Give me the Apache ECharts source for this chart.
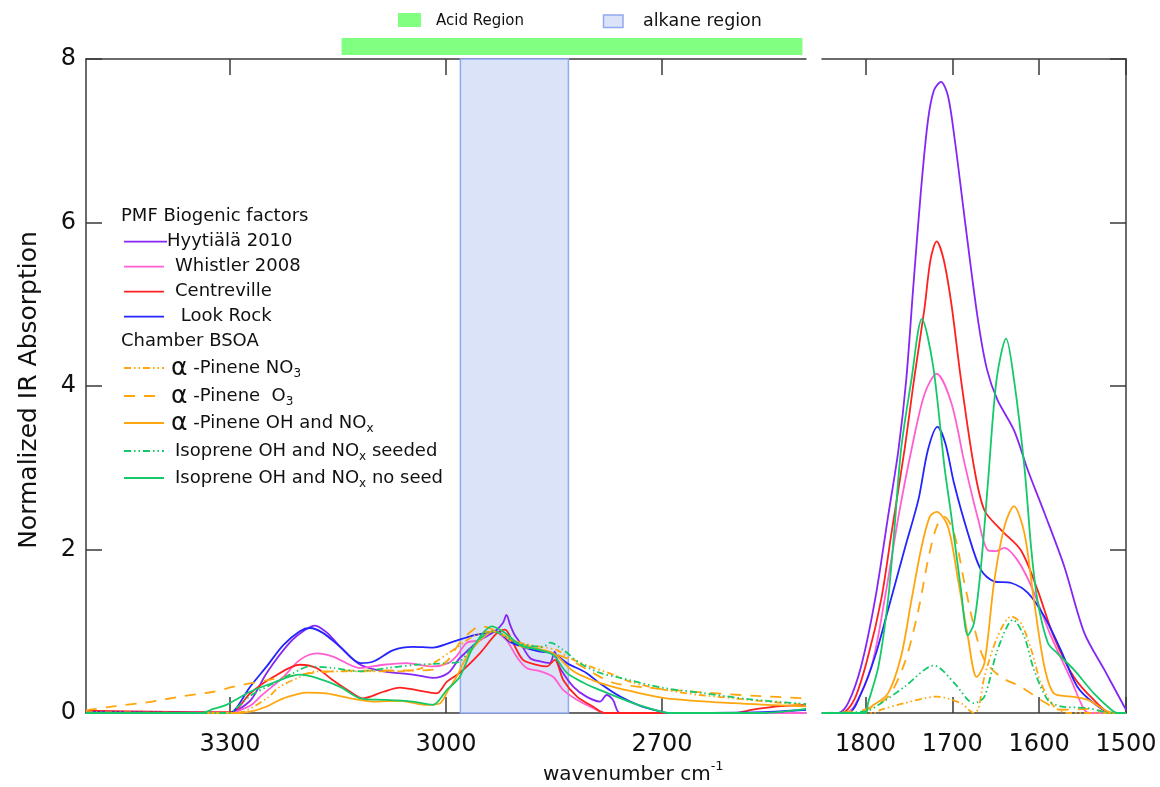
<!DOCTYPE html>
<html><head><meta charset="utf-8">
<script src="https://cdn.jsdelivr.net/npm/echarts@6/dist/echarts.min.js"></script>
<style>html,body{margin:0;padding:0;background:#fff}#c{width:1160px;height:787px}</style>
</head><body><div id="c"></div>
<script>
// ---------- DATA ----------
const leftTicks = [3300, 3000, 2700];
const rightTicks = [1800, 1700, 1600, 1500];
const yTicks = [0, 2, 4, 6, 8];
const acidRegion = [3145, 2505];
const alkaneRegion = [2980, 2830];

const seriesNames = ['Hyytiälä 2010', 'Whistler 2008', 'Centreville', 'Look Rock',
  'α-Pinene NO3', 'α-Pinene O3', 'α-Pinene OH and NOx',
  'Isoprene OH and NOx seeded', 'Isoprene OH and NOx no seed'];

const hyytialaL = [[3500,0.02],[3400,0.01],[3300,0.0],[3290,0.03],[3270,0.17],[3249,0.49],[3217,0.86],[3195,1.02],[3182,1.07],[3165,0.98],[3147,0.81],[3119,0.59],[3087,0.51],[3046,0.47],[3018,0.43],[2997,0.49],[2981,0.67],[2953,0.89],[2932,1.0],[2921,1.1],[2916,1.2],[2911,1.08],[2905,0.96],[2897,0.86],[2883,0.67],[2869,0.63],[2856,0.61],[2849,0.75],[2845,0.62],[2839,0.51],[2823,0.32],[2805,0.20],[2786,0.14],[2777,0.22],[2768,0.16],[2758,0],[2500,0]];
const whistlerL = [[3500,0.01],[3300,0],[3290,0.02],[3270,0.10],[3258,0.2],[3226,0.44],[3203,0.65],[3180,0.73],[3157,0.69],[3119,0.55],[3087,0.59],[3055,0.61],[3018,0.57],[2997,0.61],[2985,0.7],[2971,0.86],[2953,0.89],[2935,1.0],[2916,0.89],[2902,0.69],[2888,0.55],[2869,0.51],[2851,0.44],[2837,0.28],[2814,0.14],[2786,0.02],[2780,0],[2500,0]];
const centrevilleL = [[3500,0.03],[3300,0.01],[3290,0.05],[3272,0.24],[3240,0.44],[3203,0.59],[3180,0.55],[3157,0.40],[3133,0.26],[3115,0.18],[3087,0.26],[3064,0.31],[3041,0.28],[3013,0.24],[2999,0.38],[2981,0.49],[2953,0.73],[2930,0.97],[2918,1.02],[2907,0.86],[2893,0.65],[2874,0.59],[2860,0.57],[2849,0.65],[2837,0.40],[2818,0.20],[2796,0.08],[2780,0],[2600,0],[2574,0.04],[2540,0.08],[2500,0.10]];
const lookRockL = [[3500,0.01],[3300,0],[3292,0.05],[3272,0.32],[3249,0.57],[3226,0.83],[3203,1.0],[3189,1.04],[3171,0.98],[3147,0.81],[3119,0.61],[3101,0.63],[3073,0.77],[3046,0.81],[3018,0.80],[2994,0.86],[2962,0.95],[2943,0.98],[2930,1.0],[2911,0.87],[2893,0.81],[2869,0.75],[2851,0.73],[2832,0.61],[2805,0.49],[2786,0.36],[2758,0.20],[2731,0.09],[2703,0.02],[2690,0],[2560,0.01],[2500,0.04]];
const pineneNO3L = [[3500,0.01],[3300,0],[3280,0.02],[3249,0.18],[3231,0.32],[3203,0.44],[3180,0.51],[3147,0.51],[3110,0.51],[3073,0.51],[3041,0.53],[3018,0.61],[2997,0.73],[2985,0.80],[2960,0.95],[2935,1.0],[2902,0.87],[2869,0.81],[2846,0.77],[2828,0.67],[2800,0.57],[2768,0.47],[2740,0.37],[2694,0.28],[2647,0.22],[2601,0.18],[2555,0.14],[2500,0.10]];
const pineneO3L = [[3500,0.03],[3494,0.04],[3462,0.08],[3416,0.13],[3369,0.20],[3323,0.26],[3296,0.32],[3249,0.40],[3203,0.47],[3157,0.51],[3100,0.52],[3050,0.52],[3018,0.53],[2997,0.65],[2981,0.86],[2965,1.0],[2953,1.06],[2940,1.04],[2920,0.95],[2902,0.83],[2869,0.77],[2832,0.67],[2800,0.51],[2768,0.37],[2720,0.31],[2640,0.25],[2570,0.21],[2500,0.18]];
const pineneOHL = [[3500,0],[3290,0],[3270,0.02],[3249,0.08],[3226,0.18],[3193,0.25],[3166,0.24],[3133,0.18],[3101,0.14],[3064,0.15],[3027,0.10],[3008,0.12],[2997,0.28],[2985,0.45],[2971,0.69],[2953,0.89],[2935,1.0],[2907,0.89],[2879,0.80],[2851,0.73],[2823,0.51],[2796,0.40],[2768,0.32],[2740,0.26],[2694,0.18],[2601,0.12],[2500,0.08]];
const isopSeededL = [[3500,0],[3300,0],[3295,0.03],[3270,0.22],[3249,0.32],[3212,0.49],[3189,0.57],[3157,0.55],[3119,0.51],[3082,0.55],[3041,0.59],[2997,0.61],[2981,0.63],[2960,0.85],[2935,1.0],[2902,0.86],[2865,0.81],[2855,0.86],[2837,0.77],[2814,0.61],[2786,0.49],[2758,0.43],[2700,0.31],[2640,0.24],[2580,0.17],[2500,0.11]];
const isopNoSeedL = [[3500,0],[3340,0],[3323,0.05],[3305,0.10],[3272,0.26],[3240,0.37],[3203,0.47],[3180,0.43],[3147,0.32],[3119,0.18],[3082,0.16],[3046,0.14],[3018,0.10],[2999,0.28],[2981,0.44],[2962,0.81],[2936,1.06],[2918,0.98],[2897,0.83],[2869,0.77],[2851,0.71],[2832,0.49],[2809,0.37],[2786,0.28],[2740,0.12],[2703,0.02],[2690,0],[2560,0],[2500,0.05]];

const hyytialaR = [[1850,0],[1831,0],[1820,0.12],[1805,0.57],[1789,1.38],[1774,2.40],[1762,3.22],[1753,4.08],[1745,5.2],[1736,6.40],[1728,7.25],[1721,7.62],[1713,7.72],[1705,7.55],[1697,7.0],[1686,6.07],[1671,4.85],[1660,4.2],[1648,3.83],[1629,3.46],[1613,2.97],[1594,2.45],[1571,1.79],[1548,0.98],[1525,0.53],[1500,0.04]];
const whistlerR = [[1850,0],[1824,0],[1813,0.08],[1793,0.57],[1778,1.38],[1762,2.40],[1747,3.22],[1732,3.9],[1718,4.15],[1701,3.79],[1686,3.06],[1670,2.36],[1659,1.99],[1650,1.98],[1640,2.02],[1625,1.87],[1609,1.55],[1586,0.93],[1563,0.40],[1548,0.04],[1540,0],[1500,0]];
const centrevilleR = [[1850,0],[1828,0],[1813,0.16],[1797,0.69],[1782,1.38],[1770,2.20],[1755,3.22],[1744,4.08],[1732,4.95],[1725,5.55],[1718,5.77],[1710,5.55],[1701,5.0],[1690,4.08],[1675,3.01],[1663,2.48],[1644,2.24],[1621,1.99],[1602,1.51],[1583,0.93],[1560,0.44],[1537,0.16],[1517,0],[1500,0]];
const lookRockR = [[1850,0],[1820,0],[1805,0.24],[1789,0.69],[1774,1.26],[1755,2.0],[1739,2.61],[1728,3.22],[1717,3.50],[1708,3.3],[1698,2.81],[1682,2.20],[1667,1.75],[1652,1.61],[1632,1.59],[1613,1.47],[1594,1.18],[1575,0.77],[1556,0.32],[1537,0.12],[1517,0],[1500,0]];
const pineneNO3R = [[1850,0],[1790,0],[1782,0.04],[1755,0.12],[1718,0.20],[1690,0.12],[1675,0],[1670,0.05],[1663,0.44],[1648,0.93],[1632,1.18],[1621,1.10],[1609,0.77],[1598,0.37],[1583,0.08],[1567,0],[1500,0]];
const pineneO3R = [[1850,0],[1801,0.04],[1774,0.20],[1755,0.61],[1739,1.26],[1728,1.87],[1718,2.28],[1709,2.40],[1698,2.20],[1686,1.59],[1675,1.06],[1663,0.65],[1644,0.44],[1621,0.32],[1598,0.16],[1575,0.04],[1540,0.05],[1520,0],[1500,0]];
const pineneOHR = [[1850,0],[1805,0],[1793,0.08],[1774,0.24],[1759,0.69],[1747,1.38],[1736,2.0],[1726,2.4],[1718,2.46],[1705,2.28],[1694,1.67],[1682,0.93],[1672,0.44],[1663,0.61],[1652,1.59],[1640,2.28],[1629,2.53],[1617,2.20],[1606,1.38],[1594,0.57],[1583,0.24],[1563,0.20],[1544,0.16],[1525,0.04],[1515,0],[1500,0]];
const isopSeededR = [[1850,0],[1800,0.02],[1782,0.12],[1755,0.32],[1721,0.58],[1698,0.37],[1682,0.16],[1675,0.12],[1663,0.20],[1648,0.77],[1630,1.14],[1617,0.93],[1606,0.53],[1590,0.16],[1575,0.08],[1544,0.06],[1517,0],[1500,0]];
const isopNoSeedR = [[1850,0],[1800,0],[1797,0.12],[1785,0.57],[1774,1.38],[1767,2.20],[1759,3.22],[1747,4.08],[1735,4.82],[1722,4.24],[1709,3.01],[1701,2.40],[1690,1.51],[1682,0.95],[1675,1.10],[1667,1.79],[1659,2.81],[1649,4.08],[1638,4.58],[1629,4.08],[1617,3.01],[1609,2.0],[1602,1.38],[1590,0.86],[1579,0.73],[1560,0.53],[1537,0.24],[1517,0.04],[1510,0],[1500,0]];

// ---------- STYLE ----------
const FONT = 'DejaVu Sans';
const C = {purple:'#8526f5', pink:'#ff5fd2', red:'#ff2020', blue:'#2424ff', orange:'#ffa60f', green:'#14c96a'};
const DDOT = [7,3,1.5,3,1.5,3];
const DASH = [11,9];
const styles = [
  {c:C.purple, t:'solid'}, {c:C.pink, t:'solid'}, {c:C.red, t:'solid'}, {c:C.blue, t:'solid'},
  {c:C.orange, t:DDOT}, {c:C.orange, t:DASH}, {c:C.orange, t:'solid'},
  {c:C.green, t:DDOT}, {c:C.green, t:'solid'}
];
const leftData = [hyytialaL, whistlerL, centrevilleL, lookRockL, pineneNO3L, pineneO3L, pineneOHL, isopSeededL, isopNoSeedL];
const rightData = [hyytialaR, whistlerR, centrevilleR, lookRockR, pineneNO3R, pineneO3R, pineneOHR, isopSeededR, isopNoSeedR];

const axisLine = {show:true, onZero:false, lineStyle:{color:'#3a3a3a', width:1.5}};
const tick = (vals) => ({show:true, inside:true, length:16, customValues:vals, lineStyle:{color:'#3a3a3a', width:1.5}});
const plain = (v) => String(v);

const series = [];
series.push({type:'line', xAxisIndex:0, yAxisIndex:0, data:[], z:1, silent:true,
  markArea:{silent:true, itemStyle:{color:'#dbe3f8', borderColor:'#8eaaf2', borderWidth:1.5},
    data:[[{xAxis:alkaneRegion[0]},{xAxis:alkaneRegion[1]}]]}});
seriesNames.forEach((n, i) => {
  const st = styles[i];
  const base = {type:'line', name:n, showSymbol:false, smooth:0.3, z:3,
    lineStyle:{color:st.c, width:1.8, type:st.t}, itemStyle:{color:st.c}, animation:false};
  series.push(Object.assign({}, base, {xAxisIndex:0, yAxisIndex:0, data:leftData[i]}));
  series.push(Object.assign({}, base, {xAxisIndex:1, yAxisIndex:1, data:rightData[i]}));
});

const chart = echarts.init(document.getElementById('c'), null, {renderer:'canvas'});
const option = {
  animation:false,
  backgroundColor:'#fff',
  textStyle:{fontFamily:FONT},
  grid:[
    {left:86, right:354, top:59, bottom:74},
    {left:822, right:34, top:59, bottom:74}
  ],
  xAxis:[
    {type:'value', gridIndex:0, position:'bottom', min:2500, max:3500, inverse:true,
     axisLine, axisTick:tick(leftTicks), splitLine:{show:false},
     axisLabel:{customValues:leftTicks, formatter:plain, fontSize:24, color:'#111', margin:20, fontFamily:FONT}},
    {type:'value', gridIndex:1, position:'bottom', min:1500, max:1850, inverse:true,
     axisLine, axisTick:tick(rightTicks), splitLine:{show:false},
     axisLabel:{customValues:rightTicks, formatter:plain, fontSize:24, color:'#111', margin:20, fontFamily:FONT}},
    {type:'value', gridIndex:0, position:'top', min:2500, max:3500, inverse:true,
     axisLine, axisTick:tick(leftTicks), splitLine:{show:false}, axisLabel:{show:false}},
    {type:'value', gridIndex:1, position:'top', min:1500, max:1850, inverse:true,
     axisLine, axisTick:tick(rightTicks), splitLine:{show:false}, axisLabel:{show:false}}
  ],
  yAxis:[
    {type:'value', gridIndex:0, position:'left', min:0, max:8, interval:2,
     axisLine, axisTick:tick(yTicks), splitLine:{show:false},
     axisLabel:{customValues:yTicks, formatter:plain, fontSize:24, color:'#111', margin:10, fontFamily:FONT}},
    {type:'value', gridIndex:1, position:'right', min:0, max:8, interval:2,
     axisLine, axisTick:tick(yTicks), splitLine:{show:false}, axisLabel:{show:false}}
  ],
  series
};
chart.setOption(option);

// ---------- decorations (legend, titles, region bars) ----------
const g = [];
const ax0 = (v) => chart.convertToPixel({xAxisIndex:0}, v);
const acidX0 = ax0(acidRegion[0]), acidX1 = ax0(acidRegion[1]);
g.push({type:'rect', shape:{x:acidX0, y:38, width:acidX1-acidX0, height:17}, style:{fill:'#80ff80'}});
// top legend
g.push({type:'rect', shape:{x:398, y:13, width:23, height:14}, style:{fill:'#80ff80'}});
g.push({type:'text', x:436, y:21, style:{text:'Acid Region', font:'15px "'+FONT+'"', fill:'#111', verticalAlign:'middle'}});
g.push({type:'rect', shape:{x:603.5, y:15, width:19.5, height:12.5}, style:{fill:'#dbe3f8', stroke:'#8eaaf2', lineWidth:1.5}});
g.push({type:'text', x:643, y:21, style:{text:'alkane region', font:'17.5px "'+FONT+'"', fill:'#111', verticalAlign:'middle'}});

// axis titles
g.push({type:'text', x:29, y:390, rotation:Math.PI/2,
  style:{text:'Normalized IR Absorption', font:'25px "'+FONT+'"', fill:'#111', align:'center', verticalAlign:'middle'}});
g.push({type:'text', x:543, y:775,
  style:{text:'wavenumber cm{sup|-1}', font:'20px "'+FONT+'"', fill:'#111', verticalAlign:'middle',
    rich:{sup:{fontSize:13, fontFamily:FONT, verticalAlign:'top', lineHeight:30}}}});

// inner legend
const legRows = [
  {hdr:'PMF Biogenic factors', y:216.7},
  {i:0, text:'Hyytiälä 2010', x:167, y:241.7},
  {i:1, text:'Whistler 2008', x:175, y:266.7},
  {i:2, text:'Centreville', x:175, y:291.7},
  {i:3, text:' Look Rock', x:175, y:316.7},
  {hdr:'Chamber BSOA', y:341.7},
  {i:4, text:'{a|α} -Pinene NO{s|3}', x:171, y:368},
  {i:5, text:'{a|α} -Pinene  O{s|3}', x:171, y:396},
  {i:6, text:'{a|α} -Pinene OH and NO{s|x}', x:171, y:423},
  {i:7, text:'Isoprene OH and NO{s|x} seeded', x:175, y:451},
  {i:8, text:'Isoprene OH and NO{s|x} no seed', x:175, y:478}
];
const rich = {
  a:{fontSize:25, fontFamily:FONT, lineHeight:28, verticalAlign:'middle'},
  s:{fontSize:12, fontFamily:FONT, verticalAlign:'bottom', padding:[0,0,2,0]}
};
legRows.forEach(r => {
  if (r.hdr) {
    g.push({type:'text', x:121, y:r.y, style:{text:r.hdr, font:'18px "'+FONT+'"', fill:'#111', verticalAlign:'middle'}});
  } else {
    const st = styles[r.i];
    g.push({type:'line', shape:{x1:124, y1:r.y, x2:r.i===0?167:164, y2:r.y},
      style:{stroke:st.c, lineWidth:1.8, lineDash:Array.isArray(st.t)?st.t:null}});
    g.push({type:'text', x:r.x, y:r.y, style:{text:r.text, font:'18px "'+FONT+'"', fill:'#111',
      verticalAlign:'middle', lineHeight:28, rich}});
  }
});
chart.setOption({graphic:g});
</script></body></html>
